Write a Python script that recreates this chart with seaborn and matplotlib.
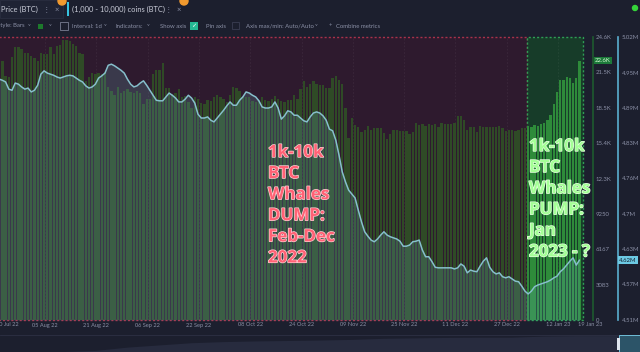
import matplotlib
matplotlib.use('Agg')
import matplotlib.pyplot as plt
import matplotlib.patheffects as pe
from matplotlib.patches import Rectangle, Ellipse
from matplotlib.transforms import blended_transform_factory
import pandas as pd
import seaborn as sns

# BTC daily price in thousands USD, 22 Jul 2022 -> 20 Jan 2023
price_k = [
    22.6, 22.5, 22.6, 21.3, 21.2, 22.9, 23.8, 23.8, 23.6, 23.3,
    23.3, 23.0, 22.8, 22.6, 23.3, 23.2, 23.2, 23.8, 23.2, 23.9,
    24.0, 24.4, 24.4, 24.3, 24.1, 23.9, 23.3, 23.2, 20.8, 21.2,
    21.5, 21.4, 21.5, 21.4, 21.6, 20.3, 20.0, 19.6, 20.3, 19.8,
    20.0, 20.1, 19.9, 19.8, 20.0, 19.8, 18.8, 19.3, 19.3, 21.4,
    21.8, 21.8, 22.4, 20.2, 20.2, 19.7, 19.8, 20.1, 19.4, 19.5,
    19.0, 18.5, 19.4, 19.3, 18.9, 18.8, 19.2, 19.1, 19.4, 19.6,
    19.4, 19.3, 19.0, 19.6, 20.3, 20.2, 20.0, 19.5, 19.4, 19.4,
    19.1, 19.0, 19.2, 19.4, 19.2, 19.1, 19.3, 19.5, 19.3, 19.1,
    19.0, 19.2, 19.2, 19.6, 19.3, 20.1, 20.8, 20.3, 20.6, 20.8,
    20.6, 20.5, 20.5, 20.2, 20.2, 21.1, 21.3, 20.9, 20.6, 18.5,
    15.9, 17.6, 17.0, 16.8, 16.4, 16.6, 16.9, 16.6, 16.7, 16.7,
    16.7, 16.3, 15.8, 16.2, 16.6, 16.6, 16.5, 16.5, 16.5, 16.2,
    16.4, 17.2, 17.0, 17.1, 16.9, 17.1, 17.0, 17.1, 16.8, 17.2,
    17.1, 17.1, 17.1, 17.2, 17.8, 17.8, 17.4, 16.6, 16.8, 16.8,
    16.4, 16.9, 16.8, 16.8, 16.8, 16.8, 16.8, 16.9, 16.7, 16.5,
    16.6, 16.6, 16.5, 16.6, 16.7, 16.7, 16.9, 16.8, 17.0, 16.9,
    17.1, 17.2, 17.4, 17.9, 18.8, 19.9, 20.9, 20.9, 21.2, 21.1,
    20.7, 21.1, 22.6,
]

# balance held by 1,000 - 10,000 BTC addresses, millions of BTC
balance_m = [
    4.944,
    4.944, 4.942, 4.939, 4.926, 4.924, 4.937, 4.935, 4.930, 4.926, 4.928,
    4.921, 4.924, 4.933, 4.953, 4.959, 4.955, 4.953, 4.951, 4.948, 4.946,
    4.948, 4.950, 4.951, 4.950, 4.946, 4.942, 4.939, 4.932, 4.928, 4.930,
    4.935, 4.946, 4.950, 4.955, 4.969, 4.971, 4.968, 4.964, 4.960, 4.955,
    4.944, 4.935, 4.930, 4.932, 4.937, 4.941, 4.933, 4.924, 4.915, 4.906,
    4.905, 4.905, 4.912, 4.919, 4.915, 4.910, 4.903, 4.903, 4.908, 4.915,
    4.910, 4.901, 4.881, 4.874, 4.874, 4.876, 4.870, 4.867, 4.874, 4.881,
    4.888, 4.896, 4.903, 4.897, 4.897, 4.906, 4.912, 4.921, 4.919, 4.915,
    4.912, 4.905, 4.894, 4.892, 4.892, 4.894, 4.903, 4.892, 4.872, 4.878,
    4.887, 4.885, 4.879, 4.879, 4.874, 4.869, 4.867, 4.876, 4.883, 4.885,
    4.883, 4.878, 4.870, 4.854, 4.851, 4.834, 4.807, 4.777, 4.759, 4.744,
    4.737, 4.730, 4.708, 4.687, 4.669, 4.661, 4.654, 4.651, 4.656, 4.663,
    4.669, 4.663, 4.660, 4.658, 4.656, 4.652, 4.643, 4.643, 4.645, 4.651,
    4.652, 4.654, 4.636, 4.624, 4.624, 4.615, 4.605, 4.604, 4.604, 4.604,
    4.604, 4.604, 4.602, 4.604, 4.611, 4.607, 4.595, 4.600, 4.598, 4.597,
    4.607, 4.616, 4.622, 4.605, 4.597, 4.593, 4.595, 4.588, 4.586, 4.588,
    4.584, 4.580, 4.579, 4.571, 4.562, 4.557, 4.562, 4.570, 4.573, 4.575,
    4.577, 4.579, 4.582, 4.586, 4.589, 4.597, 4.602, 4.609, 4.616, 4.622,
    4.609, 4.618,
]

pump_start = 166  # first day of the green "accumulation" window

price_ticks = [0, 3.083, 6.167, 9.25, 12.333, 15.417, 18.5, 21.583, 24.667]
price_tick_labels = ['0', '3083', '6167', '9250', '12.3K', '15.4K', '18.5K', '21.5K', '24.6K']
balance_ticks = [4.51, 4.574, 4.6375, 4.701, 4.765, 4.829, 4.8925, 4.956, 5.02]
balance_tick_labels = ['4.51M', '4.57M', '4.63M', '4.7M', '4.76M', '4.83M', '4.89M', '4.95M', '5.02M']

date_days = [14, 30, 46, 62, 78, 94, 110, 126, 142, 158, 174]
date_labels = ['05 Aug 22', '21 Aug 22', '06 Sep 22', '22 Sep 22', '08 Oct 22', '24 Oct 22',
               '09 Nov 22', '25 Nov 22', '11 Dec 22', '27 Dec 22', '12 Jan 23']
first_date_label = '20 Jul 22'
last_date_label = '19 Jan 23'

# overview strip at the bottom (relative height)
nav_level = [0, 0, 0, 0.05, 0.2, 0.3, 0.4, 0.45, 0.48, 0.5, 0.52,
             0.55, 0.6, 0.62, 0.64, 0.65, 0.65, 0.7, 0.72, 0.72, 0.72]

days = list(range(len(price_k)))
df = pd.DataFrame({
    'day': days,
    'price': price_k,
    'balance': balance_m,
    'period': ['dump' if d < pump_start else 'pump' for d in days],
})

W, H = 640, 352
BG = '#1c1f2e'
GREY = '#8b90a6'
PX_PER_DAY = 3.206
X0 = 1.25

sns.set_theme(style='dark')
plt.rcParams['font.family'] = ['Lato', 'DejaVu Sans']

fig = plt.figure(figsize=(6.4, 3.52), dpi=100, facecolor=BG)
ax = fig.add_axes([0, 1 - 320 / H, 593 / W, 283 / H])
ax.set_facecolor(BG)

dump_end = X0 + 527 / PX_PER_DAY
pump_end = X0 + 583 / PX_PER_DAY
ax.axvspan(X0 - 3, dump_end, facecolor='#2e1a2e', edgecolor='#a8324a',
           linestyle=(0, (1.5, 1.5)), linewidth=1, zorder=0, clip_on=False)
ax.axvspan(dump_end, pump_end, facecolor='#173c29', edgecolor='#2f9e55',
           linestyle=(0, (1.5, 1.5)), linewidth=1, zorder=0.5, clip_on=False)

for d in date_days:
    ax.axvline(d + 1.3, color='white', alpha=0.06, lw=0.6, ls=(0, (2, 2)), zorder=1)

sns.barplot(data=df, x='day', y='price', hue='period',
            palette={'dump': '#2c5020', 'pump': '#1f9a2e'},
            native_scale=True, dodge=False, width=0.72, linewidth=0,
            errorbar=None, legend=False, ax=ax, zorder=2)

ax2 = ax.twinx()
ax2.fill_between(df['day'], df['balance'], 4.51, color='#6fb8c4', alpha=0.2, linewidth=0)
sns.lineplot(data=df, x='day', y='balance', ax=ax2, color='#86bfcc', linewidth=1.1)

ax.set_ylim(0, 24.667)
ax2.set_ylim(4.51, 5.02)
ax.set_xlim(X0, X0 + 593 / PX_PER_DAY)
ax.set_xticks([])
ax.set_xlabel('')
ax.set_ylabel('')
ax2.set_xlabel('')
ax2.set_ylabel('')

ax.yaxis.tick_right()
ax.set_yticks(price_ticks, price_tick_labels)
ax.tick_params(axis='y', length=0, pad=2.2, labelsize=4.3, labelcolor=GREY)
ax2.set_yticks(balance_ticks, balance_tick_labels)
ax2.tick_params(axis='y', length=0, pad=2.5, labelsize=4.3, labelcolor=GREY)
ax2.spines['right'].set_position(('outward', 18))
for s in ['top', 'left', 'bottom']:
    ax.spines[s].set_visible(False)
    ax2.spines[s].set_visible(False)
ax.spines['right'].set_color('#1e5a2e')
ax.spines['right'].set_linewidth(1.2)
ax2.spines['right'].set_color('#5aaed0')
ax2.spines['right'].set_linewidth(1.2)
ax.grid(False)
ax2.grid(False)

# last value badges on the two axes
ax.text(1 + 2 / 593, price_k[-1], f'{price_k[-1]:.1f}K',
        transform=blended_transform_factory(ax.transAxes, ax.transData),
        ha='left', va='center', fontsize=4.3, color='#d6f7d6',
        bbox=dict(boxstyle='square,pad=0.2', fc='#1d7a3a', ec='none'))
ax2.text(1 + 26 / 593, balance_m[-1], f'{balance_m[-1]:.2f}M',
         transform=blended_transform_factory(ax2.transAxes, ax2.transData),
         ha='left', va='center', fontsize=4.3, color='#15202e',
         bbox=dict(boxstyle='square,pad=0.2', fc='#6cc9e3', ec='none'))

# date labels
tr = blended_transform_factory(ax.transData, fig.transFigure)
ydate = 1 - 325 / H
for d, lab in zip(date_days, date_labels):
    ax.text(d + 1.3, ydate, lab, transform=tr, ha='center', va='center',
            fontsize=4.1, color=GREY, clip_on=False)
fig.text(-4 / W, ydate, first_date_label, ha='left', va='center', fontsize=4.1, color=GREY)
fig.text(602 / W, ydate, last_date_label, ha='right', va='center', fontsize=4.1, color=GREY)

# annotations
note_font = ['Open Sans', 'DejaVu Sans']
fig.text(268 / W, 1 - 143 / H, '1k-10k\nBTC\nWhales\nDUMP:\nFeb-Dec\n2022',
         ha='left', va='top', fontsize=12.2, fontweight='bold', family=note_font,
         color='#ff6275', linespacing=1.22,
         path_effects=[pe.withStroke(linewidth=1.0, foreground='#ffd0d6')])
fig.text(529 / W, 1 - 137 / H, '1k-10k\nBTC\nWhales\nPUMP:\nJan\n2023 - ?',
         ha='left', va='top', fontsize=12.2, fontweight='bold', family=note_font,
         color='#a4ff96', linespacing=1.22,
         path_effects=[pe.withStroke(linewidth=1.0, foreground='#e6ffe0')])


# toolbar
def rect(x, y, w, h, **kw):
    fig.add_artist(Rectangle((x / W, 1 - (y + h) / H), w / W, h / H,
                             transform=fig.transFigure, **kw))


def dot(x, y, r, color):
    fig.add_artist(Ellipse((x / W, 1 - y / H), 2 * r / W, 2 * r / H,
                           transform=fig.transFigure, color=color))


def label(x, y, s, size=4.3, color=GREY, ha='left', **kw):
    fig.text(x / W, 1 - y / H, s, ha=ha, va='center', fontsize=size, color=color, **kw)


rect(0, 0, 63, 18, fc='#1f2334', ec='#2a2e40', lw=0.6)
rect(67, 2, 1.6, 14, fc='#37c3e0', ec='none')
label(1, 9, 'Price (BTC)', 5.4, '#c9ccd8')
label(43, 9, '⋮', 5.4)
label(55, 9, '×', 5.4)
label(72, 9, '(1,000 - 10,000) coins (BTC)', 5.4, '#c9ccd8')
label(165, 9, '⋮', 5.4)
label(177, 9, '×', 5.4)
dot(62, 1, 4, '#f29a2e')
dot(184, 1, 4, '#f29a2e')
dot(635, 8, 2.5, '#35d43a')

label(25, 26, 'Style: Bars', ha='right')
label(28, 26, '˅')
rect(38, 23.5, 5, 5, fc='#1d7a2c', ec='none')
label(49, 26, '˅')
rect(60, 22.5, 8, 7, fc='none', ec=GREY, lw=0.5)
label(72, 26, 'Interval: 1d')
label(104, 26, '˅')
label(116, 26, 'Indicators:')
label(147, 26, '˅')
label(160, 26, 'Show axis')
rect(190, 22, 8, 8, fc='#25b894', ec='none')
label(191.5, 26, '✓', 4.6, 'white')
label(206, 26, 'Pin axis')
rect(232, 22, 7, 7, fc='none', ec='#3a3e52', lw=0.6)
label(246, 26, 'Axis max/min: Auto/Auto')
label(315, 26, '˅')
label(329, 26, '+')
label(336, 26, 'Combine metrics')

# overview strip
nav = fig.add_axes([0, 0, 1, 22 / H])
nav.set_axis_off()
nav.fill_between(range(len(nav_level)), nav_level, 0, color='#272b3e', linewidth=0)
nav.axhline(0.77, color='#2a2d40', lw=0.8)
nav.set_xlim(0, len(nav_level) - 1)
nav.set_ylim(0, 1)
rect(619, 335, 21, 17, fc='#2c5468', ec='#7ad3ee', lw=0.6)
rect(616.5, 338, 3.5, 12, fc='#dfe6ee', ec='none')

fig.savefig('out.png', dpi=100, facecolor=BG)
